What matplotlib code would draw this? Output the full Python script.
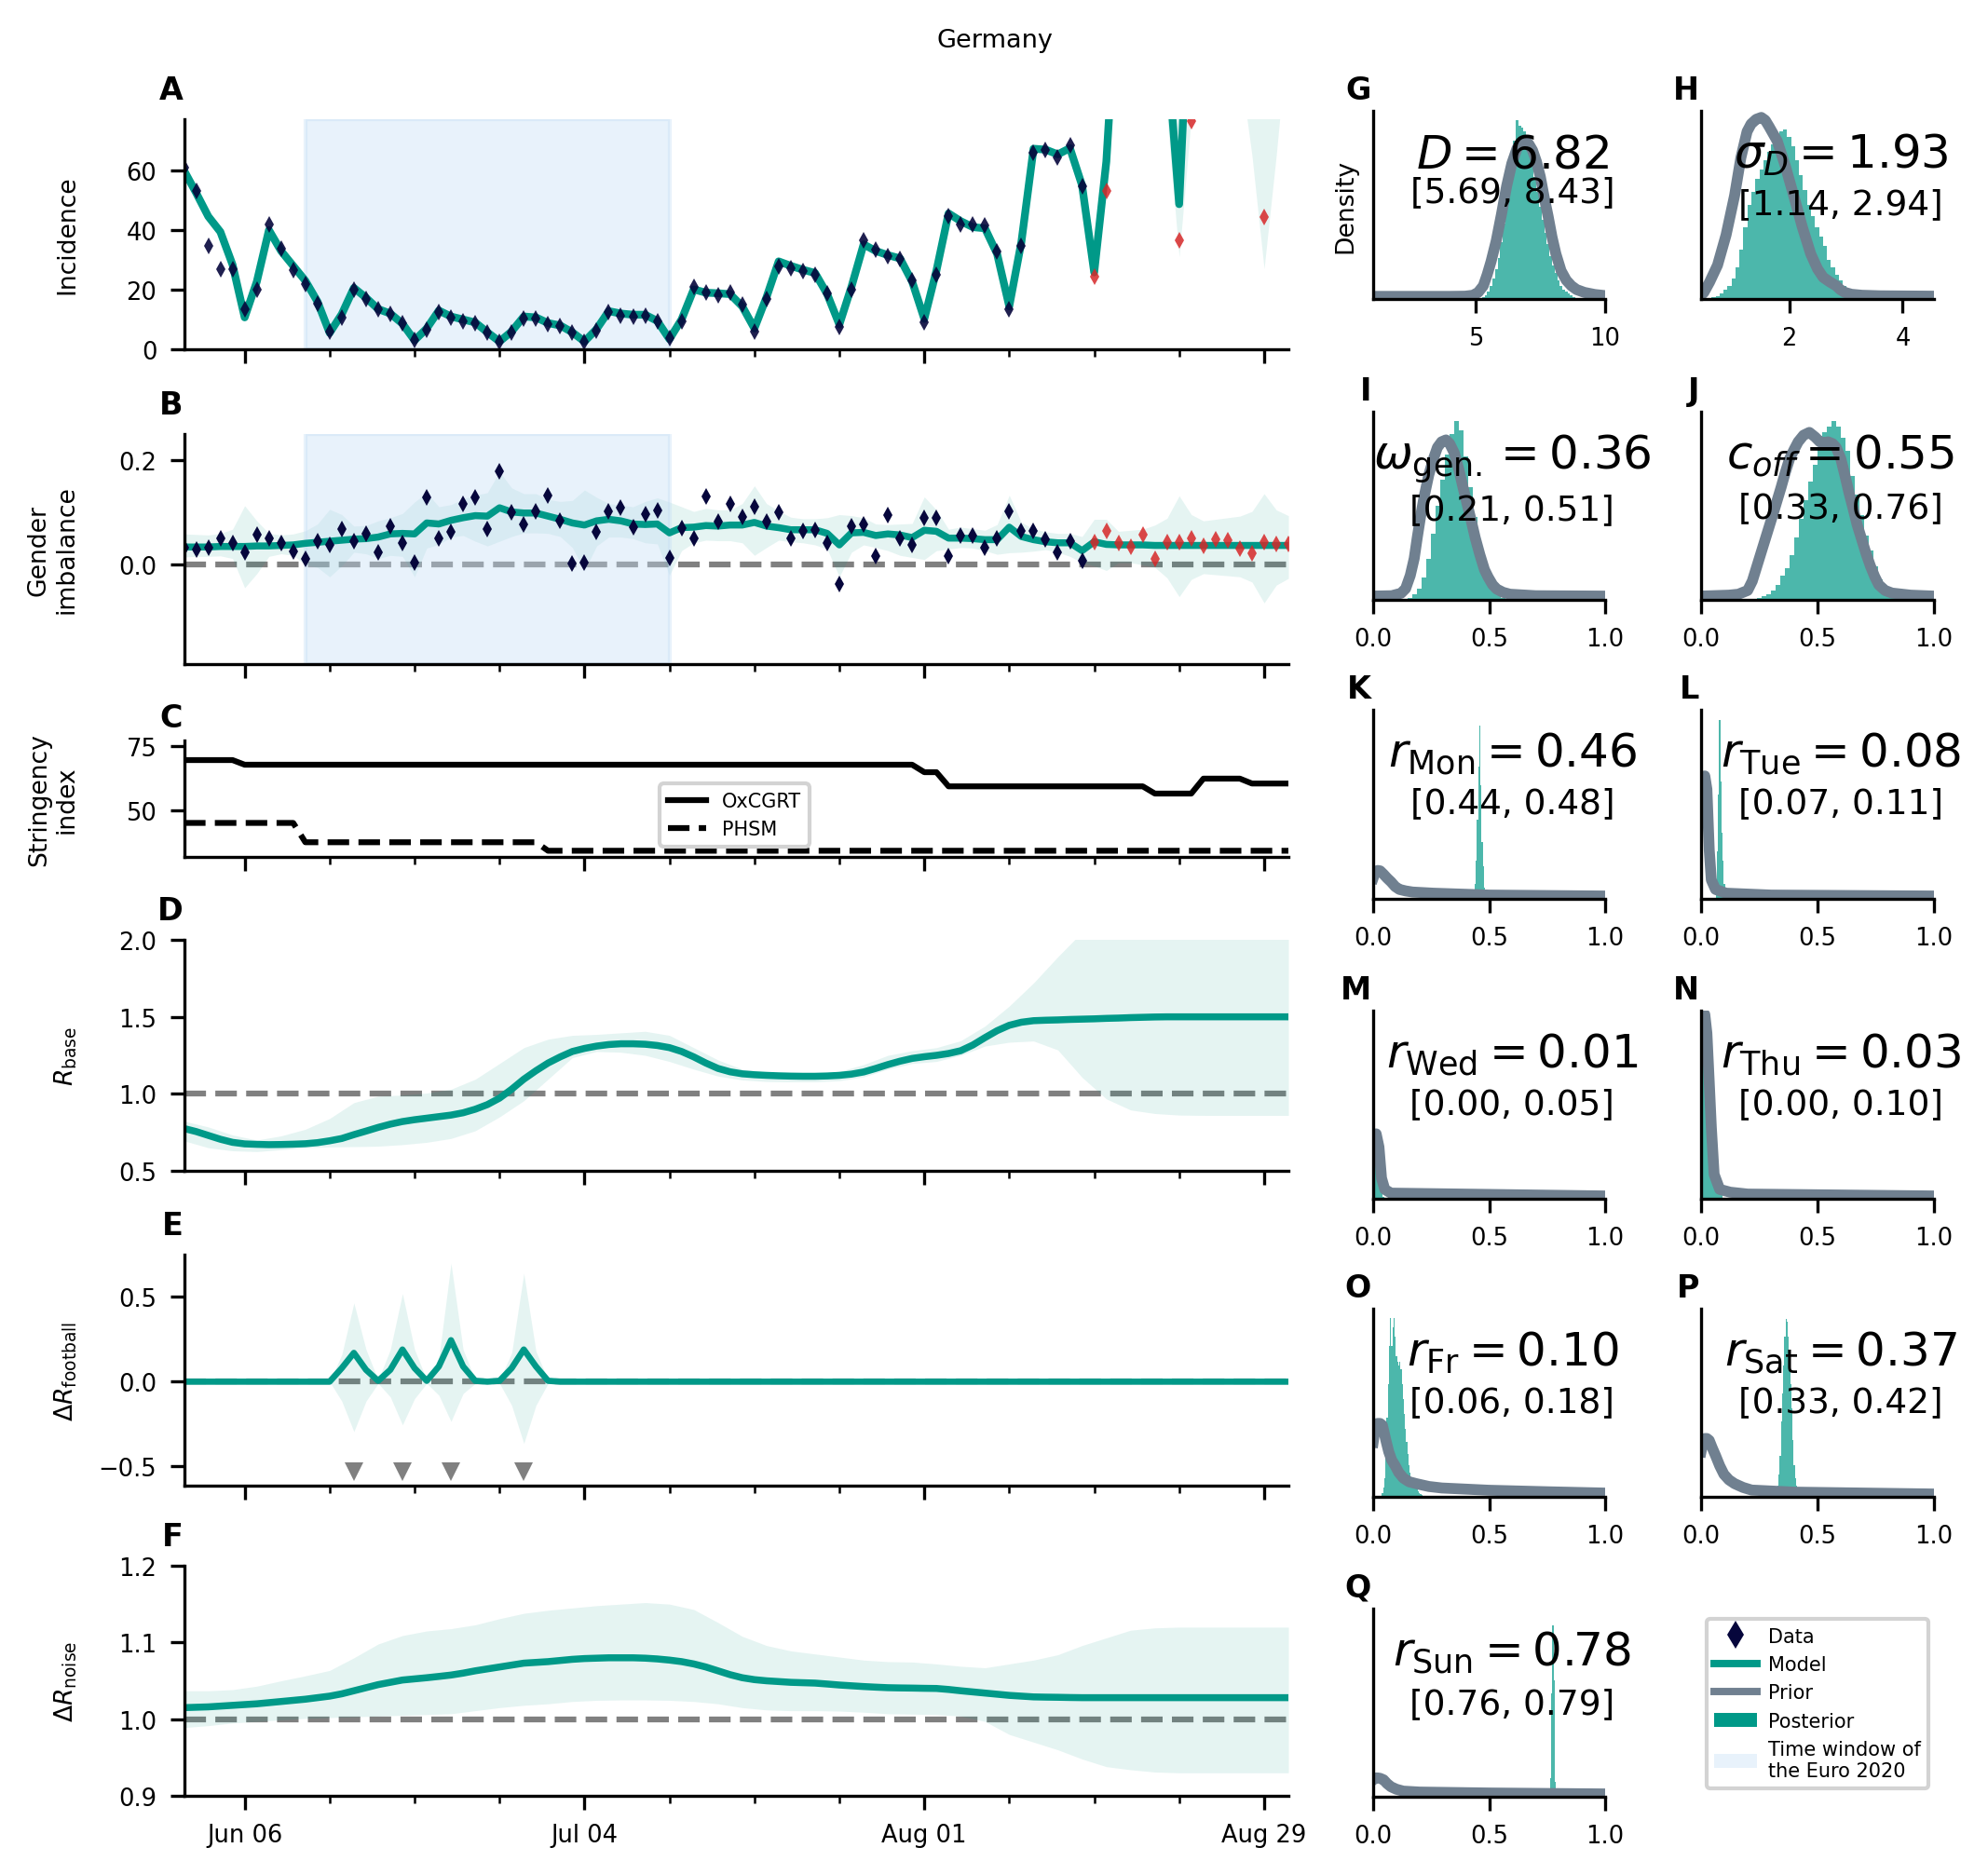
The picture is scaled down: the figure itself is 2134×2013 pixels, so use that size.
import numpy as np
import pandas as pd
import matplotlib
matplotlib.use("Agg")
import matplotlib.pyplot as plt
import matplotlib.dates as mdates
from matplotlib.lines import Line2D
from matplotlib.patches import Patch

# daily values, Jun 1 - Aug 31
dates = pd.date_range("2021-06-01", "2021-08-31")
euro_start, euro_end = pd.Timestamp("2021-06-11"), pd.Timestamp("2021-07-11")
first_red = 75  # Aug 15

incidence_data = [61,53,34.7,26.9,27,13.5,20,42,33.7,26.7,22,15.4,6,10.7,20,17,13.3,12,8.6,3.2,6.6,12.5,10.5,9.5,8.7,5.5,2.4,5.7,10.4,10.4,
    8.3,7.8,5.5,2.4,6.3,12.5,11.3,11,11.1,9.5,3.8,9.4,21,19,18,19,15.1,6,17,27.7,27.2,26.4,25.1,18.8,7.6,20,36.6,33.3,31.4,30.2,23,
    9.2,25,44.6,41.9,42,41.7,32.8,13.5,34.7,66,67,64.4,68.4,54.7,24.3,53.2,120,140,150,130,95,36.6,76.7,130,150,160,140,110,44.5,120,140]
incidence_model = [60,52.5,44.6,39.4,28.4,10.7,22.7,40,33,28,23,16,5.5,11.8,20.6,17.3,13.5,12,8.6,3,7,13,11,10,9,5.7,2.6,6,11,10.7,
    8.8,8,5.7,2.6,6.8,12.8,12,11.6,11.6,9.5,3.4,10,20.1,19,18.8,18.5,14.4,7,17.5,29.5,28,26.7,25.6,18.5,8.3,21,35.2,33,31.6,30.5,22.7,
    10.2,26.4,45.6,43,41,40.6,32,14.4,36,67.3,67,65.4,67.5,55,25.8,63,130,160,190,160,101,48.7,137,170,200,210,190,160,140,150,170]
# band is only visible from Aug 14 on
incidence_low = [53,24,58,110,120,130,110,78,31,78,110,120,120,95,65,27,65,108]
incidence_high = [57,28,68,150,300,300,300,300,300,300,300,300,300,300,300,300,300,300]

gender_data = [.033,.030,.033,.051,.041,.024,.057,.051,.042,.026,.012,.046,.038,.069,.046,.059,.024,.073,.042,.005,.129,.050,.063,.116,.129,.069,.178,.100,.078,.102,
    .132,.085,.002,.005,.063,.102,.109,.071,.096,.104,.013,.070,.051,.131,.082,.116,.092,.111,.082,.101,.050,.064,.066,.042,-.036,.074,.077,.016,.095,.050,.038,
    .090,.090,.017,.056,.056,.032,.050,.102,.064,.064,.048,.024,.046,.008,.044,.064,.042,.035,.058,.011,.043,.043,.051,.036,.048,.047,.031,.022,.044,.039,.039]
gender_model = [.034,.034,.034,.035,.035,.035,.036,.036,.037,.038,.041,.043,.045,.047,.049,.050,.053,.059,.060,.059,.080,.078,.085,.090,.094,.093,.109,.101,.099,.099,
    .093,.087,.080,.076,.084,.087,.084,.078,.077,.078,.061,.071,.072,.075,.074,.076,.076,.081,.074,.071,.067,.067,.067,.060,.038,.061,.062,.056,.059,.057,.052,
    .066,.064,.051,.051,.050,.048,.048,.072,.054,.048,.044,.042,.042,.027,.044,.039,.038,.038,.038,.037,.037,.037,.037,.037,.037,.037,.037,.037,.037,.037,.037]
gender_high = [.059,.058,.057,.060,.068,.113,.084,.060,.057,.059,.065,.078,.106,.096,.074,.075,.084,.090,.098,.120,.138,.111,.115,.126,.133,.138,.178,.147,.136,.136,
    .125,.121,.123,.143,.129,.117,.114,.111,.121,.128,.120,.111,.102,.108,.105,.105,.117,.151,.117,.103,.091,.088,.088,.090,.096,.094,.090,.078,.077,.078,.079,
    .130,.105,.068,.072,.069,.066,.077,.133,.081,.069,.063,.060,.060,.054,.087,.087,.064,.066,.068,.076,.089,.132,.096,.084,.087,.090,.093,.102,.136,.105,.094]
gender_low = [.015,.016,.016,.017,.012,-.044,-.017,.016,.021,.018,.0,-.005,-.023,-.002,.024,.021,.012,.018,.016,-.023,.032,.039,.053,.056,.045,.036,.045,.054,.061,.061,
    .060,.054,.033,-.011,.036,.053,.053,.050,.042,.040,-.020,.027,.042,.047,.046,.046,.042,.018,.033,.047,.044,.042,.038,.030,-.023,.024,.038,.033,.027,.018,.014,
    .010,.027,.030,.033,.032,.027,.020,.023,.024,.026,.029,.024,.016,.004,-.002,-.011,.004,.004,.0,-.005,-.025,-.061,-.028,-.017,-.019,-.021,-.023,-.033,-.073,-.039,-.026]

oxcgrt = [69.6]*5 + [67.8]*56 + [64.9]*2 + [59.4]*17 + [56.6]*4 + [62.4]*4 + [60.5]*4
phsm = [45.2]*10 + [37.7]*20 + [34.4]*62

rbase_mid = [.775,.755,.73,.705,.685,.675,.672,.67,.671,.673,.676,.683,.695,.71,.735,.758,.782,.803,.82,.832,.842,.852,.862,.877,.9,.93,.972,1.03,1.095,1.15,
    1.2,1.24,1.275,1.295,1.31,1.32,1.325,1.325,1.322,1.314,1.30,1.275,1.24,1.2,1.165,1.143,1.13,1.124,1.12,1.117,1.115,1.114,1.114,1.116,1.12,1.128,1.142,1.165,1.19,1.212,1.23,
    1.241,1.25,1.262,1.28,1.317,1.365,1.41,1.445,1.465,1.475,1.478,1.48,1.483,1.485,1.487,1.49,1.492,1.495,1.497,1.499] + [1.50]*11
noise_mid = [1.015,1.0155,1.016,1.017,1.018,1.019,1.02,1.0215,1.023,1.0245,1.026,1.028,1.03,1.033,1.037,1.041,1.045,1.048,1.051,1.0525,1.054,1.0557,1.0575,1.06,1.063,1.0655,1.068,1.0705,1.073,1.074,
    1.075,1.0765,1.078,1.079,1.0795,1.08,1.08,1.08,1.0795,1.0785,1.077,1.075,1.072,1.068,1.063,1.058,1.054,1.0515,1.05,1.049,1.048,1.0475,1.047,1.0458,1.0445,1.0435,1.0425,1.0417,1.041,1.0407,1.0405,
    1.0402,1.04,1.0387,1.037,1.0355,1.034,1.0325,1.031,1.03,1.029,1.0287,1.0285,1.0282,1.028] + [1.028]*17

# R bands, read every second day plus the last one
band_days = list(range(0, 92, 2)) + [91]
rbase_high = [.823,.785,.733,.70,.727,.77,.84,.943,.985,.992,1.005,1.03,1.095,1.197,1.30,1.355,1.38,1.386,1.396,1.406,1.38,1.30,1.22,1.16,1.14,1.133,1.133,1.146,1.19,1.25,1.28,1.30,1.345,1.44,1.57,1.72,1.89,2.05,2.2,2.3,2.35,2.4,2.4,2.4,2.4,2.4,2.4]
rbase_low = [.695,.65,.63,.625,.637,.65,.655,.657,.66,.67,.685,.71,.76,.85,.955,1.095,1.235,1.275,1.27,1.25,1.21,1.16,1.115,1.09,1.08,1.078,1.078,1.085,1.11,1.16,1.197,1.21,1.25,1.31,1.335,1.343,1.285,1.107,.967,.895,.872,.862,.86,.86,.86,.86,.86]
noise_high = [1.037,1.037,1.0385,1.043,1.05,1.0565,1.0635,1.08,1.098,1.109,1.115,1.118,1.123,1.131,1.138,1.142,1.145,1.148,1.15,1.152,1.15,1.143,1.126,1.108,1.096,1.089,1.085,1.081,1.077,1.075,1.0745,1.072,1.069,1.067,1.072,1.077,1.084,1.096,1.106,1.116,1.119,1.12,1.12,1.12,1.12,1.12,1.12]
noise_low = [.989,.9915,.995,.997,.999,1.001,1.002,1.003,1.004,1.005,1.006,1.007,1.011,1.015,1.018,1.02,1.023,1.0245,1.025,1.025,1.0245,1.023,1.02,1.015,1.012,1.011,1.011,1.0105,1.009,1.007,1.0065,1.006,1.004,.997,.98,.97,.96,.948,.938,.934,.931,.93,.93,.93,.93,.93,.93]

football_mid = [0]*13 + [.08,.17,.07,.005,.07,.19,.08,.005,.09,.245,.09,.005,0,.005,.08,.19,.09,.005] + [0]*61
football_high = [0]*13 + [.16,.465,.19,.01,.19,.52,.19,.01,.14,.70,.19,.01,.01,.01,.17,.64,.18,.01] + [0]*61
football_low = [0]*13 + [-.115,-.295,-.115,-.01,-.09,-.255,-.10,-.01,-.08,-.235,-.07,-.01,-.01,-.01,-.14,-.365,-.14,-.01] + [0]*61
match_days = [14, 18, 22, 28]

# posterior histograms (bin centre, height as share of panel height) and prior curves
d_bins = [5.3,5.4,5.5,5.6,5.7,5.8,5.9,6.0,6.1,6.2,6.3,6.4,6.5,6.6,6.7,6.8,6.9,7.0,7.1,7.2,7.3,7.4,7.5,7.6,7.7,7.8,7.9,8.0,8.1,8.2,8.3,8.4,8.5,8.6,8.7,8.8]
d_post = [.01,.02,.04,.07,.11,.16,.22,.30,.40,.51,.63,.75,.84,.95,.92,.91,.89,.84,.78,.72,.65,.57,.49,.42,.35,.29,.23,.18,.14,.10,.07,.05,.04,.03,.02,.01]
d_px = [1.05,4,4.6,4.9,5.1,5.3,5.45,5.6,5.8,6.0,6.2,6.4,6.6,6.75,6.9,7.05,7.2,7.35,7.5,7.65,7.8,7.95,8.1,8.3,8.5,8.7,8.9,9.2,9.6,10]
d_py = [.014,.014,.015,.02,.035,.07,.13,.20,.31,.45,.60,.72,.80,.83,.84,.825,.79,.73,.65,.54,.44,.33,.24,.15,.10,.07,.05,.035,.024,.018]

sd_bins = [.67,.74,.81,.88,.95,1.02,1.09,1.16,1.23,1.30,1.37,1.44,1.51,1.58,1.65,1.72,1.79,1.86,1.93,2.00,2.07,2.14,2.21,2.28,2.35,2.42,2.49,2.56,2.63,2.70,2.77,2.84,2.91,2.98,3.05,3.12,3.19,3.26,3.33,3.40]
sd_post = [.01,.015,.03,.05,.07,.11,.17,.26,.38,.50,.57,.64,.69,.74,.78,.82,.86,.89,.90,.86,.81,.74,.66,.58,.50,.44,.38,.33,.28,.21,.17,.13,.10,.07,.05,.035,.025,.015,.01,.005]
sd_px = [.45,.5,.6,.74,.89,1.04,1.15,1.26,1.33,1.42,1.51,1.58,1.65,1.79,1.93,2.08,2.23,2.38,2.5,2.6,2.72,2.83,2.9,2.98,3.1,3.28,3.6,4.55]
sd_py = [.02,.035,.09,.18,.34,.55,.75,.89,.93,.955,.965,.95,.915,.84,.71,.55,.385,.24,.16,.115,.09,.07,.05,.035,.025,.02,.017,.015]

gen_bins = [.16,.18,.20,.22,.24,.26,.28,.30,.32,.34,.36,.38,.40,.42,.44,.46,.48,.50,.52,.54,.56]
gen_post = [.01,.03,.06,.12,.22,.35,.50,.64,.77,.88,.95,.90,.76,.60,.44,.30,.19,.11,.06,.03,.01]
gen_px = [0,.08,.12,.14,.16,.177,.19,.204,.22,.24,.26,.277,.295,.314,.33,.35,.37,.387,.405,.423,.44,.46,.48,.496,.515,.533,.56,.59,.7,1]
gen_py = [.02,.022,.035,.06,.13,.22,.33,.44,.55,.665,.75,.81,.84,.85,.83,.78,.69,.60,.51,.42,.33,.24,.16,.12,.08,.057,.04,.03,.022,.02]

off_bins = [.25,.27,.29,.31,.33,.35,.37,.39,.41,.43,.45,.47,.49,.51,.53,.55,.57,.59,.61,.63,.65,.67,.69,.71,.73,.75,.77,.79,.81,.83]
off_post = [.01,.02,.03,.05,.08,.13,.17,.24,.33,.43,.53,.63,.72,.80,.89,.92,.95,.92,.86,.79,.66,.56,.45,.34,.26,.18,.11,.06,.03,.01]
off_px = [0,.12,.16,.2,.22,.235,.25,.27,.29,.31,.327,.344,.36,.38,.40,.417,.44,.465,.49,.51,.53,.545,.565,.58,.60,.617,.635,.654,.67,.69,.71,.727,.745,.763,.79,.82,.9,1]
off_py = [.02,.025,.03,.05,.10,.16,.22,.30,.38,.46,.53,.60,.67,.75,.80,.84,.875,.89,.865,.84,.835,.84,.83,.81,.75,.665,.57,.48,.40,.32,.24,.18,.125,.08,.05,.036,.025,.02]

mon_bins = [.435,.44,.445,.45,.455,.46,.465,.47,.475,.48,.485]
mon_post = [.01,.08,.20,.42,.70,.915,.60,.30,.17,.06,.02]
mon_px = [0,.01,.02,.03,.045,.06,.077,.095,.113,.14,.17,.26,.5,1]
mon_py = [.11,.145,.15,.148,.13,.11,.09,.065,.05,.042,.036,.03,.02,.015]

tue_bins = [.065,.07,.075,.08,.085,.09,.095,.10,.105]
tue_post = [.06,.25,.55,.945,.62,.35,.20,.08,.02]
tue_px = [0,.016,.025,.035,.044,.062,.107,.3,1]
tue_py = [.62,.65,.58,.26,.10,.05,.03,.02,.015]

wed_bins = [.005,.015,.025,.035,.045]
wed_post = [.25,.25,.15,.05,.01]
wed_px = [0,.013,.025,.036,.05,.077,1]
wed_py = [.33,.345,.275,.11,.05,.03,.015]

thu_bins = [.005,.015,.025,.035,.045,.055,.065,.075,.085]
thu_post = [.90,.75,.55,.42,.36,.31,.20,.09,.03]
thu_px = [0,.016,.025,.035,.044,.056,.08,.125,.2,1]
thu_py = [.96,.98,.88,.62,.38,.13,.05,.035,.025,.015]

fri_bins = [.04,.045,.05,.055,.06,.065,.07,.075,.08,.085,.09,.095,.10,.105,.11,.115,.12,.125,.13,.135,.14,.145,.15,.155,.16,.165,.17,.175,.18,.185,.19,.195,.20,.205,.21]
fri_post = [.02,.05,.10,.25,.42,.60,.80,.95,.80,.90,.95,.85,.75,.72,.70,.72,.68,.60,.52,.44,.36,.29,.23,.17,.13,.10,.08,.06,.05,.045,.04,.03,.02,.015,.01]
fri_px = [0,.008,.018,.03,.04,.055,.067,.08,.095,.11,.13,.155,.186,.24,.296,.5,.75,1]
fri_py = [.29,.36,.39,.39,.38,.30,.24,.195,.165,.13,.10,.08,.07,.055,.047,.035,.027,.02]

sat_bins = [.33,.335,.34,.345,.35,.355,.36,.365,.37,.375,.38,.385,.39,.395,.40,.405,.41,.415,.42,.425,.43]
sat_post = [.06,.12,.22,.40,.55,.70,.85,.947,.93,.85,.75,.60,.47,.30,.17,.10,.06,.04,.03,.02,.01]
sat_px = [0,.008,.016,.025,.035,.048,.062,.08,.098,.12,.144,.18,.217,.4,1]
sat_py = [.24,.29,.31,.31,.30,.26,.22,.165,.12,.09,.07,.05,.036,.025,.015]

sun_bins = [.76,.765,.77,.775,.78,.785,.79]
sun_post = [.04,.10,.55,.91,.62,.08,.03]
sun_px = [0,.01,.02,.03,.045,.06,.077,.10,.13,.2,.5,1]
sun_py = [.09,.10,.10,.098,.09,.07,.053,.04,.03,.025,.02,.015]

TEAL = "#009988"
GREY = "#708090"
NAVY = "#06063c"
RED = "#d62728"
SPAN = "#c4def5"

W, H = 2134, 2014
plt.rcParams["font.size"] = 6.2
plt.rcParams["axes.labelsize"] = 6.4
plt.rcParams["xtick.labelsize"] = 6.2
plt.rcParams["ytick.labelsize"] = 6.2

fig = plt.figure(figsize=(W / 300, H / 300), dpi=300)


def make_axes(x0, x1, y0, y1):
    # pixel box from the top left corner of the picture
    ax = fig.add_axes([x0 / W, 1 - y1 / H, (x1 - x0) / W, (y1 - y0) / H])
    ax.spines["top"].set_visible(False)
    ax.spines["right"].set_visible(False)
    return ax


def time_panel(box, letter, ylabel, ylim, yticks, euro=False, letter_y=1.09):
    ax = make_axes(197.5, 1383, box[0], box[1])
    ax.set_xlim(dates[0], dates[-1])
    ax.set_ylim(*ylim)
    ax.set_yticks(yticks)
    ax.set_xticks(pd.date_range("2021-06-06", "2021-08-31", freq="28D"))
    ax.set_xticks(pd.date_range("2021-06-06", "2021-08-31", freq="7D"), minor=True)
    ax.xaxis.set_major_formatter(mdates.DateFormatter("%b %d"))
    ax.tick_params(labelbottom=False)
    ax.set_ylabel(ylabel)
    ax.yaxis.set_label_coords(-0.095, 0.5)
    ax.text(-0.001, letter_y, letter, transform=ax.transAxes, ha="right", va="baseline", fontsize=8, fontweight="bold")
    if euro:
        ax.axvspan(euro_start, euro_end, color=SPAN, alpha=0.39, zorder=1.8)
    return ax


def band(ax, x, low, high):
    ax.fill_between(x, low, high, color=TEAL, alpha=0.1, linewidth=0, zorder=1.2)


def zero_line(ax, y):
    ax.axhline(y, color="gray", ls="--", lw=1.5, zorder=1)


# time series panels
ax = time_panel((129, 376), "A", "Incidence", (0, 77.2), [0, 20, 40, 60], euro=True)
band(ax, dates[74:], incidence_low, incidence_high)
ax.plot(dates, incidence_model, color=TEAL, lw=2)
ax.plot(dates[:first_red], incidence_data[:first_red], "d", color=NAVY, ms=3.1, mew=0, alpha=0.9)
ax.plot(dates[first_red:], incidence_data[first_red:], "d", color=RED, ms=3.1, mew=0, alpha=0.85)

ax = time_panel((467, 714), "B", "Gender\nimbalance", (-0.19, 0.25), [0, 0.2], euro=True)
zero_line(ax, 0)
band(ax, dates, gender_low, gender_high)
ax.plot(dates, gender_model, color=TEAL, lw=1.8)
ax.plot(dates[:first_red], gender_data[:first_red], "d", color=NAVY, ms=3.1, mew=0)
ax.plot(dates[first_red:], gender_data[first_red:], "d", color=RED, ms=3.1, mew=0, alpha=0.85)

ax = time_panel((796, 921), "C", "Stringency\nindex", (32, 77.2), [50, 75], letter_y=1.12)
ax.plot(dates, oxcgrt, color="black", lw=1.5, label="OxCGRT")
ax.plot(dates, phsm, color="black", lw=1.5, ls="--", label="PHSM")
ax.legend(loc="center", bbox_to_anchor=(0.4985, 0.36), fontsize=5, fancybox=True, framealpha=1, edgecolor="lightgray")

x2 = dates[band_days]

ax = time_panel((1010, 1258), "D", r"$R_\mathrm{base}$", (0.5, 2), [0.5, 1, 1.5, 2])
zero_line(ax, 1)
band(ax, x2, rbase_low, rbase_high)
ax.plot(dates, rbase_mid, color=TEAL, lw=1.8)

ax = time_panel((1348, 1596), "E", r"$\Delta R_\mathrm{football}$", (-0.614, 0.75), [-0.5, 0, 0.5])
zero_line(ax, 0)
band(ax, dates, football_low, football_high)
ax.plot(dates, football_mid, color=TEAL, lw=1.6)
ax.plot(dates[match_days], [-0.53] * len(match_days), "v", color="gray", ms=4.6, mew=0)

ax = time_panel((1682, 1929), "F", r"$\Delta R_\mathrm{noise}$", (0.9, 1.2), [0.9, 1.0, 1.1, 1.2])
zero_line(ax, 1)
band(ax, x2, noise_low, noise_high)
ax.plot(dates, noise_mid, color=TEAL, lw=1.8)
ax.tick_params(labelbottom=True)


# parameter panels
col1, col2 = (1474, 1723), (1826, 2076)
row1, row2, row3, row4, row5, row6 = (120, 322), (443, 645), (763, 966), (1086, 1288), (1406, 1608), (1728, 1930)


def param_panel(col, row, letter, label, ci, ci_y, bins, post, px, py, xlim=(0, 1), xticks=(0, 0.5, 1)):
    ax = make_axes(col[0], col[1], row[0], row[1])
    ax.set_xlim(*xlim)
    ax.set_ylim(0, 1)
    ax.set_yticks([])
    ax.set_xticks(xticks, [str(t) for t in xticks] if xlim != (0, 1) else ["0.0", "0.5", "1.0"])
    centres = np.array(bins)
    step = centres[1] - centres[0]
    edges = np.append(centres - step / 2, centres[-1] + step / 2)
    ax.stairs(post, edges, fill=True, color=TEAL, alpha=0.7, linewidth=0)
    ax.plot(px, py, color=GREY, lw=2.8)
    ax.text(-0.008, 1.065, letter, transform=ax.transAxes, ha="right", va="baseline", fontsize=8, fontweight="bold")
    ax.text(0.6, 0.70, label, transform=ax.transAxes, ha="center", va="baseline", fontsize=12)
    ax.text(0.6, ci_y, ci, transform=ax.transAxes, ha="center", va="baseline", fontsize=9)
    return ax


ax = param_panel(col1, row1, "G", r"$D = 6.82$", "[5.69, 8.43]", 0.517, d_bins, d_post, d_px, d_py, xlim=(1.05, 10), xticks=(5, 10))
ax.set_ylabel("Density")
param_panel(col2, row1, "H", r"$\sigma_D = 1.93$", "[1.14, 2.94]", 0.456, sd_bins, sd_post, sd_px, sd_py, xlim=(0.45, 4.55), xticks=(2, 4))
param_panel(col1, row2, "I", r"$\omega_\mathrm{gen.} = 0.36$", "[0.21, 0.51]", 0.432, gen_bins, gen_post, gen_px, gen_py)
param_panel(col2, row2, "J", r"$c_{off} = 0.55$", "[0.33, 0.76]", 0.44, off_bins, off_post, off_px, off_py)
param_panel(col1, row3, "K", r"$r_\mathrm{Mon} = 0.46$", "[0.44, 0.48]", 0.457, mon_bins, mon_post, mon_px, mon_py)
param_panel(col2, row3, "L", r"$r_\mathrm{Tue} = 0.08$", "[0.07, 0.11]", 0.457, tue_bins, tue_post, tue_px, tue_py)
param_panel(col1, row4, "M", r"$r_\mathrm{Wed} = 0.01$", "[0.00, 0.05]", 0.453, wed_bins, wed_post, wed_px, wed_py)
param_panel(col2, row4, "N", r"$r_\mathrm{Thu} = 0.03$", "[0.00, 0.10]", 0.453, thu_bins, thu_post, thu_px, thu_py)
param_panel(col1, row5, "O", r"$r_\mathrm{Fr} = 0.10$", "[0.06, 0.18]", 0.456, fri_bins, fri_post, fri_px, fri_py)
param_panel(col2, row5, "P", r"$r_\mathrm{Sat} = 0.37$", "[0.33, 0.42]", 0.456, sat_bins, sat_post, sat_px, sat_py)
param_panel(col1, row6, "Q", r"$r_\mathrm{Sun} = 0.78$", "[0.76, 0.79]", 0.443, sun_bins, sun_post, sun_px, sun_py)

handles = [
    Line2D([], [], marker="d", color=NAVY, ls="none", ms=5, mew=0),
    Line2D([], [], color=TEAL, lw=1.9),
    Line2D([], [], color=GREY, lw=1.9),
    Patch(color=TEAL, linewidth=0),
    Patch(facecolor=SPAN, alpha=0.39, linewidth=0),
]
labels = ["Data", "Model", "Prior", "Posterior", "Time window of\nthe Euro 2020"]
fig.legend(handles, labels, loc="center", bbox_to_anchor=(1951 / W, 1 - 1830 / H), fontsize=5, fancybox=True, framealpha=1,
           edgecolor="lightgray", handlelength=2.2, handletextpad=0.6)

fig.text(1068 / W, 1 - 44 / H, "Germany", ha="center", va="center", fontsize=6.5)

fig.savefig("out.png", dpi=300)
